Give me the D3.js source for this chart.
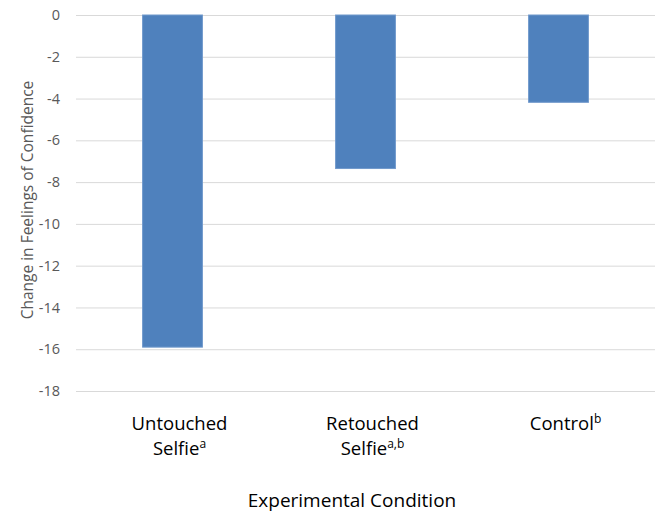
<!DOCTYPE html>
<html>
  <head>
    <meta charset="utf-8">
    <style>
    body {
        margin: 0px;
        overflow: hidden;
        background: #fff;
    }
    text {
        font-family: "Open Sans", sans-serif;
    }
    .tick line {
        stroke: #d9d9d9;
    }
    </style>
    <script src="https://d3js.org/d3.v7.min.js"></script>
  </head>
  <body>
    <svg width="664" height="515"></svg>
    <script>
        // data
        const conditions = ['Untouched', 'Retouched', 'Control'];
        const labelLines = [['Untouched', 'Selfie'], ['Retouched', 'Selfie'], ['Control']];
        const superscripts = ['a', 'a,b', 'b'];
        const changes = [-15.9, -7.35, -4.18];
        const yTicks = [0, -2, -4, -6, -8, -10, -12, -14, -16, -18];

        const svg = d3.select('svg');
        const margin = { top: 15, right: 9, bottom: 124, left: 76 };
        const width = +svg.attr('width');
        const height = +svg.attr('height');
        const innerWidth = width - margin.left - margin.right;
        const innerHeight = height - margin.top - margin.bottom;

        const g = svg.append('g')
            .attr('transform', `translate(${margin.left},${margin.top})`);

        const yScale = d3.scaleLinear()
            .domain([0, -18])
            .range([0, innerHeight]);

        const xScale = d3.scaleBand()
            .domain(conditions)
            .range([0, innerWidth])
            .paddingInner(0.69)
            .paddingOuter(0.345);

        // gridlines only
        const yAxis = d3.axisLeft(yScale)
            .tickValues(yTicks)
            .tickFormat('')
            .tickSize(-innerWidth);
        const yAxisG = g.append('g').call(yAxis);
        yAxisG.select('.domain').remove();
        yAxisG.selectAll('.tick text').remove();

        // tick labels (plain hyphen like the original)
        g.selectAll('.ylabel').data(yTicks)
            .enter().append('text')
                .attr('class', 'ylabel')
                .attr('x', -16)
                .attr('y', d => yScale(d))
                .attr('dy', '0.35em')
                .attr('text-anchor', 'end')
                .attr('font-size', '14.5px')
                .attr('fill', '#595959')
                .text(d => String(d));

        // bars
        g.selectAll('rect').data(changes)
            .enter().append('rect')
                .attr('x', (d, i) => xScale(conditions[i]))
                .attr('y', d => yScale(0))
                .attr('width', xScale.bandwidth())
                .attr('height', d => yScale(d) - yScale(0))
                .attr('fill', '#4f81bd')
                .attr('stroke', '#7199cc')
                .attr('stroke-width', 1);

        // category labels with superscripts
        const labelOffset = 7;
        labelLines.forEach((lines, i) => {
            const cx = xScale(conditions[i]) + xScale.bandwidth() / 2 + labelOffset;
            lines.forEach((line, j) => {
                const t = g.append('text')
                    .attr('x', cx)
                    .attr('y', innerHeight + 39 + j * 25)
                    .attr('text-anchor', 'middle')
                    .attr('font-size', '18.5px')
                    .attr('fill', '#000');
                t.append('tspan').text(line);
                if (j === lines.length - 1) {
                    t.append('tspan')
                        .attr('font-size', '12px')
                        .attr('dy', -7)
                        .text(superscripts[i]);
                }
            });
        });

        // axis titles
        svg.append('text')
            .attr('x', 352)
            .attr('y', 507)
            .attr('text-anchor', 'middle')
            .attr('font-size', '19px')
            .attr('fill', '#000')
            .text('Experimental Condition');

        svg.append('text')
            .attr('transform', `translate(33,200) rotate(-90)`)
            .attr('text-anchor', 'middle')
            .attr('font-size', '15.5px')
            .attr('fill', '#595959')
            .text('Change in Feelings of Confidence');
    </script>
  </body>
</html>
